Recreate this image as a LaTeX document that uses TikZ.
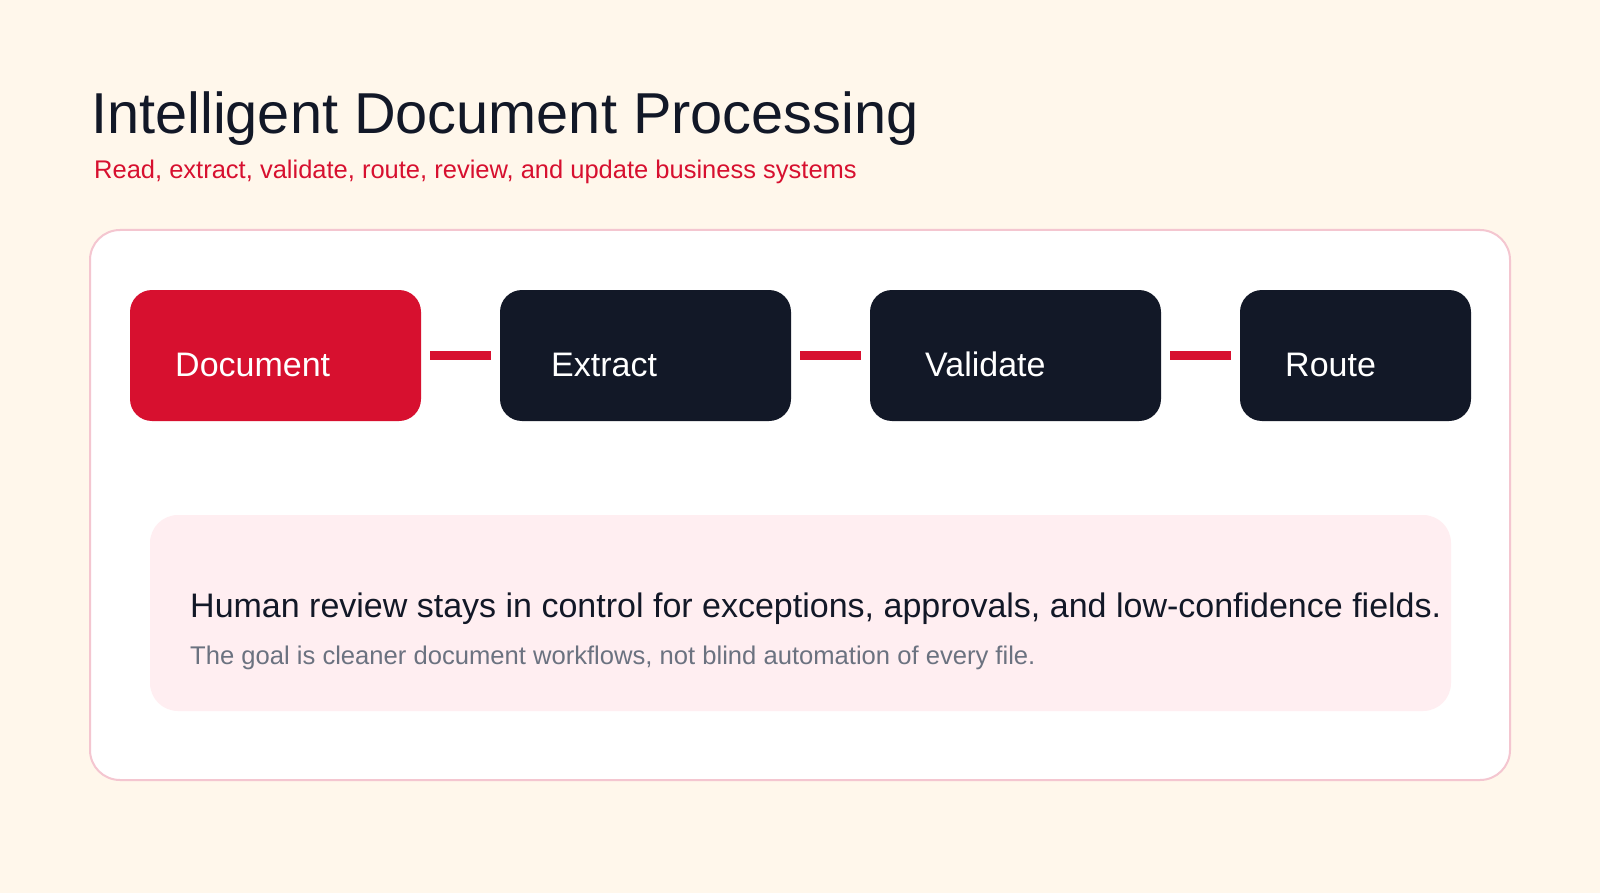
\documentclass[tikz,border=0pt]{standalone}
\usepackage{fontspec}
\setmainfont{Liberation Sans}
\definecolor{cream}{HTML}{FFF7EB}
\definecolor{crim}{HTML}{D7102F}
\definecolor{navy}{HTML}{121827}
\definecolor{pinkfill}{HTML}{FFEEF1}
\definecolor{pinkline}{HTML}{F4C6D0}
\definecolor{slate}{HTML}{6B7280}
\tikzset{
  stepbox/.style={rectangle, rounded corners=22pt, minimum width=291pt, minimum height=131pt, inner sep=0pt, draw=none},
  steptext/.style={anchor=base west, inner sep=0pt, text=white, font=\fontsize{34}{40}\selectfont},
  conn/.style={draw=crim, line width=9pt, shorten <=9pt, shorten >=9pt},
}
\begin{document}
\begin{tikzpicture}[x=1pt,y=-1pt]
\fill[cream] (0,0) rectangle (1600,893);
\useasboundingbox (0,0) rectangle (1600,893);
\node[anchor=base west, inner sep=0pt, text=navy, font=\fontsize{57.7}{70}\selectfont] (title) at (91,134) {Intelligent Document Processing};
\node[anchor=base west, inner sep=0pt, text=crim, font=\fontsize{25.5}{31}\selectfont] (sub) at (94,179) {Read, extract, validate, route, review, and update business systems};
\node[rectangle, rounded corners=30pt, fill=white, draw=pinkline, line width=2pt, minimum width=1420pt, minimum height=550pt, inner sep=0pt] (panel) at (800,505) {};
\node[stepbox, fill=crim] (doc) at (275.5,355.5) {};
\node[stepbox, fill=navy] (ext) at (645.5,355.5) {};
\node[stepbox, fill=navy] (val) at (1015.5,355.5) {};
\node[stepbox, fill=navy, minimum width=231pt] (rte) at (1355.5,355.5) {};
\node[steptext] (doct) at (175,376) {Document};
\node[steptext] (extt) at (551,376) {Extract};
\node[steptext] (valt) at (925,376) {Validate};
\node[steptext] (rtet) at (1285,376) {Route};
\draw[conn] (doc) -- (ext);
\draw[conn] (ext) -- (val);
\draw[conn] (val) -- (rte);
\node[rectangle, rounded corners=28pt, fill=pinkfill, draw=none, minimum width=1301pt, minimum height=196pt, inner sep=0pt] (note) at (800.5,613) {};
\node[anchor=base west, inner sep=0pt, text=navy, font=\fontsize{34}{40}\selectfont] (head) at (190,617) {Human review stays in control for exceptions, approvals, and low-confidence fields.};
\node[anchor=base west, inner sep=0pt, text=slate, font=\fontsize{25.6}{31}\selectfont] (foot) at (190,664) {The goal is cleaner document workflows, not blind automation of every file.};
\end{tikzpicture}
\end{document}
